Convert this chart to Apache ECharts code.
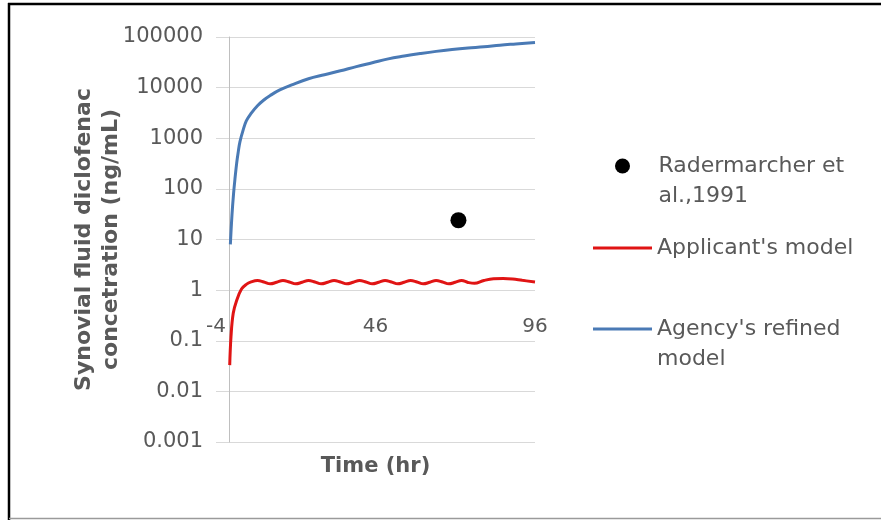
<!DOCTYPE html>
<html>
<head>
<meta charset="utf-8">
<script src="https://cdn.jsdelivr.net/npm/echarts@6/dist/echarts.min.js"></script>
<style>
  html, body { margin: 0; padding: 0; background: #fff; }
  #chart { width: 881px; height: 520px; }
</style>
</head>
<body>
<div id="chart"></div>
<script>
// Measured synovial fluid point
const measuredTime = [72];
const measuredValue = [24];

// Applicant's model (ng/mL) over time (hr)
const applicantTime = [0.3, 0.7, 1.4, 2.5, 4, 5.5, 7, 9, 11, 13, 15, 17, 19, 21, 23, 25, 27, 29, 31, 33, 35, 37, 39, 41, 43, 45, 47, 49, 51, 53, 55, 57, 59, 61, 63, 65, 67, 69, 71, 73, 75, 77, 80, 83, 86, 89, 92, 96];
const applicantValue = [0.033, 0.12, 0.35, 0.63, 1.05, 1.3, 1.45, 1.55, 1.45, 1.33, 1.43, 1.55, 1.45, 1.33, 1.43, 1.55, 1.45, 1.33, 1.43, 1.55, 1.45, 1.33, 1.43, 1.55, 1.45, 1.33, 1.43, 1.55, 1.45, 1.33, 1.43, 1.55, 1.45, 1.33, 1.43, 1.55, 1.45, 1.33, 1.43, 1.55, 1.42, 1.36, 1.55, 1.68, 1.7, 1.66, 1.56, 1.45];

// Agency's refined model (ng/mL) over time (hr)
const agencyTime = [0.5, 1, 1.5, 2, 2.5, 3, 3.5, 4.5, 5.5, 7, 9, 11, 13, 16, 20, 25, 30, 35, 40, 45, 50, 55, 60, 65, 70, 75, 80, 85, 90, 96];
const agencyValue = [8, 30, 80, 170, 330, 550, 850, 1450, 2200, 3100, 4400, 5700, 7000, 9000, 11500, 15000, 18000, 21500, 26000, 31000, 37000, 42000, 47000, 52000, 56500, 60500, 64000, 69000, 73000, 78000];

// Axis tick labels
const yTickLabels = ['0.001', '0.01', '0.1', '1', '10', '100', '1000', '10000', '100000'];
const xTickLabels = ['-4', '46', '96'];

const seriesNames = ['Radermarcher et al.,1991', "Applicant's model", "Agency's refined model"];
// Legend text; a leading blank line keeps the first line level with the key
const legendLabels = [' \nRadermarcher et\nal.,1991', "Applicant's model", " \nAgency's refined\nmodel"];

const zip = (xs, ys) => xs.map((x, i) => [x, ys[i]]);

const textGray = '#595959';
const font = 'DejaVu Sans';

const legendText = {
  fontFamily: font,
  fontSize: 22,
  color: textGray,
  lineHeight: 30
};

const chart = echarts.init(document.getElementById('chart'), null, { renderer: 'canvas' });

chart.setOption({
  animation: false,
  backgroundColor: '#ffffff',
  grid: { left: 216, right: 346, top: 37, bottom: 78, containLabel: false },
  xAxis: {
    type: 'value',
    min: -4,
    max: 96,
    interval: 50,
    offset: -151,
    axisLine: { show: false, onZero: false },
    axisTick: { show: false },
    splitLine: { show: false },
    axisLabel: {
      margin: 26,
      fontFamily: font,
      fontSize: 20,
      color: textGray,
      formatter: (v) => xTickLabels[Math.round((v + 4) / 50)]
    },
    name: 'Time (hr)',
    nameLocation: 'middle',
    nameGap: 165,
    nameMoveOverlap: false,
    nameTextStyle: { fontFamily: font, fontSize: 21, fontWeight: 'bold', color: textGray }
  },
  yAxis: {
    type: 'log',
    logBase: 10,
    min: 0.001,
    max: 100000,
    splitNumber: 8,
    axisLine: { show: true, onZero: true, lineStyle: { color: '#bfbfbf', width: 1 } },
    axisTick: { show: false },
    splitLine: { show: true, lineStyle: { color: '#d9d9d9', width: 1.2 } },
    axisLabel: {
      margin: 13,
      fontFamily: font,
      fontSize: 21,
      color: textGray,
      formatter: (v) => yTickLabels[Math.round(Math.log10(v)) + 3]
    },
    name: 'Synovial fluid diclofenac\nconcetration (ng/mL)',
    nameLocation: 'middle',
    nameRotate: 90,
    nameGap: 91,
    nameMoveOverlap: false,
    nameTextStyle: { fontFamily: font, fontSize: 22, fontWeight: 'bold', color: textGray, lineHeight: 27 }
  },
  legend: [
    {
      data: [{ name: seriesNames[0], icon: 'circle' }],
      left: 615, top: 121, padding: 0,
      itemWidth: 62, itemHeight: 15,
      formatter: () => legendLabels[0],
      textStyle: legendText
    },
    {
      data: [{ name: seriesNames[1], icon: 'rect' }],
      left: 593, top: 233, padding: 0,
      itemWidth: 59, itemHeight: 3,
      formatter: () => legendLabels[1],
      textStyle: legendText
    },
    {
      data: [{ name: seriesNames[2], icon: 'rect' }],
      left: 593, top: 284, padding: 0,
      itemWidth: 59, itemHeight: 3,
      formatter: () => legendLabels[2],
      textStyle: legendText
    }
  ],
  series: [
    {
      name: seriesNames[0],
      type: 'scatter',
      data: zip(measuredTime, measuredValue),
      symbol: 'circle',
      symbolSize: 16,
      itemStyle: { color: '#000000', opacity: 1 },
      z: 5
    },
    {
      name: seriesNames[1],
      type: 'line',
      data: zip(applicantTime, applicantValue),
      showSymbol: false,
      smooth: 0.4,
      lineStyle: { color: '#e01414', width: 3 },
      itemStyle: { color: '#e01414' }
    },
    {
      name: seriesNames[2],
      type: 'line',
      data: zip(agencyTime, agencyValue),
      showSymbol: false,
      smooth: 0.4,
      lineStyle: { color: '#4a7ab5', width: 3 },
      itemStyle: { color: '#4a7ab5' }
    }
  ],
  graphic: [
    { type: 'line', shape: { x1: 8, y1: 4, x2: 881, y2: 4 }, style: { stroke: '#000', lineWidth: 2.5 }, silent: true },
    { type: 'line', shape: { x1: 9, y1: 3, x2: 9, y2: 520 }, style: { stroke: '#000', lineWidth: 2.5 }, silent: true },
    { type: 'line', shape: { x1: 9, y1: 518.5, x2: 881, y2: 518.5 }, style: { stroke: '#9a9a9a', lineWidth: 1.5 }, silent: true }
  ]
});
</script>
</body>
</html>
